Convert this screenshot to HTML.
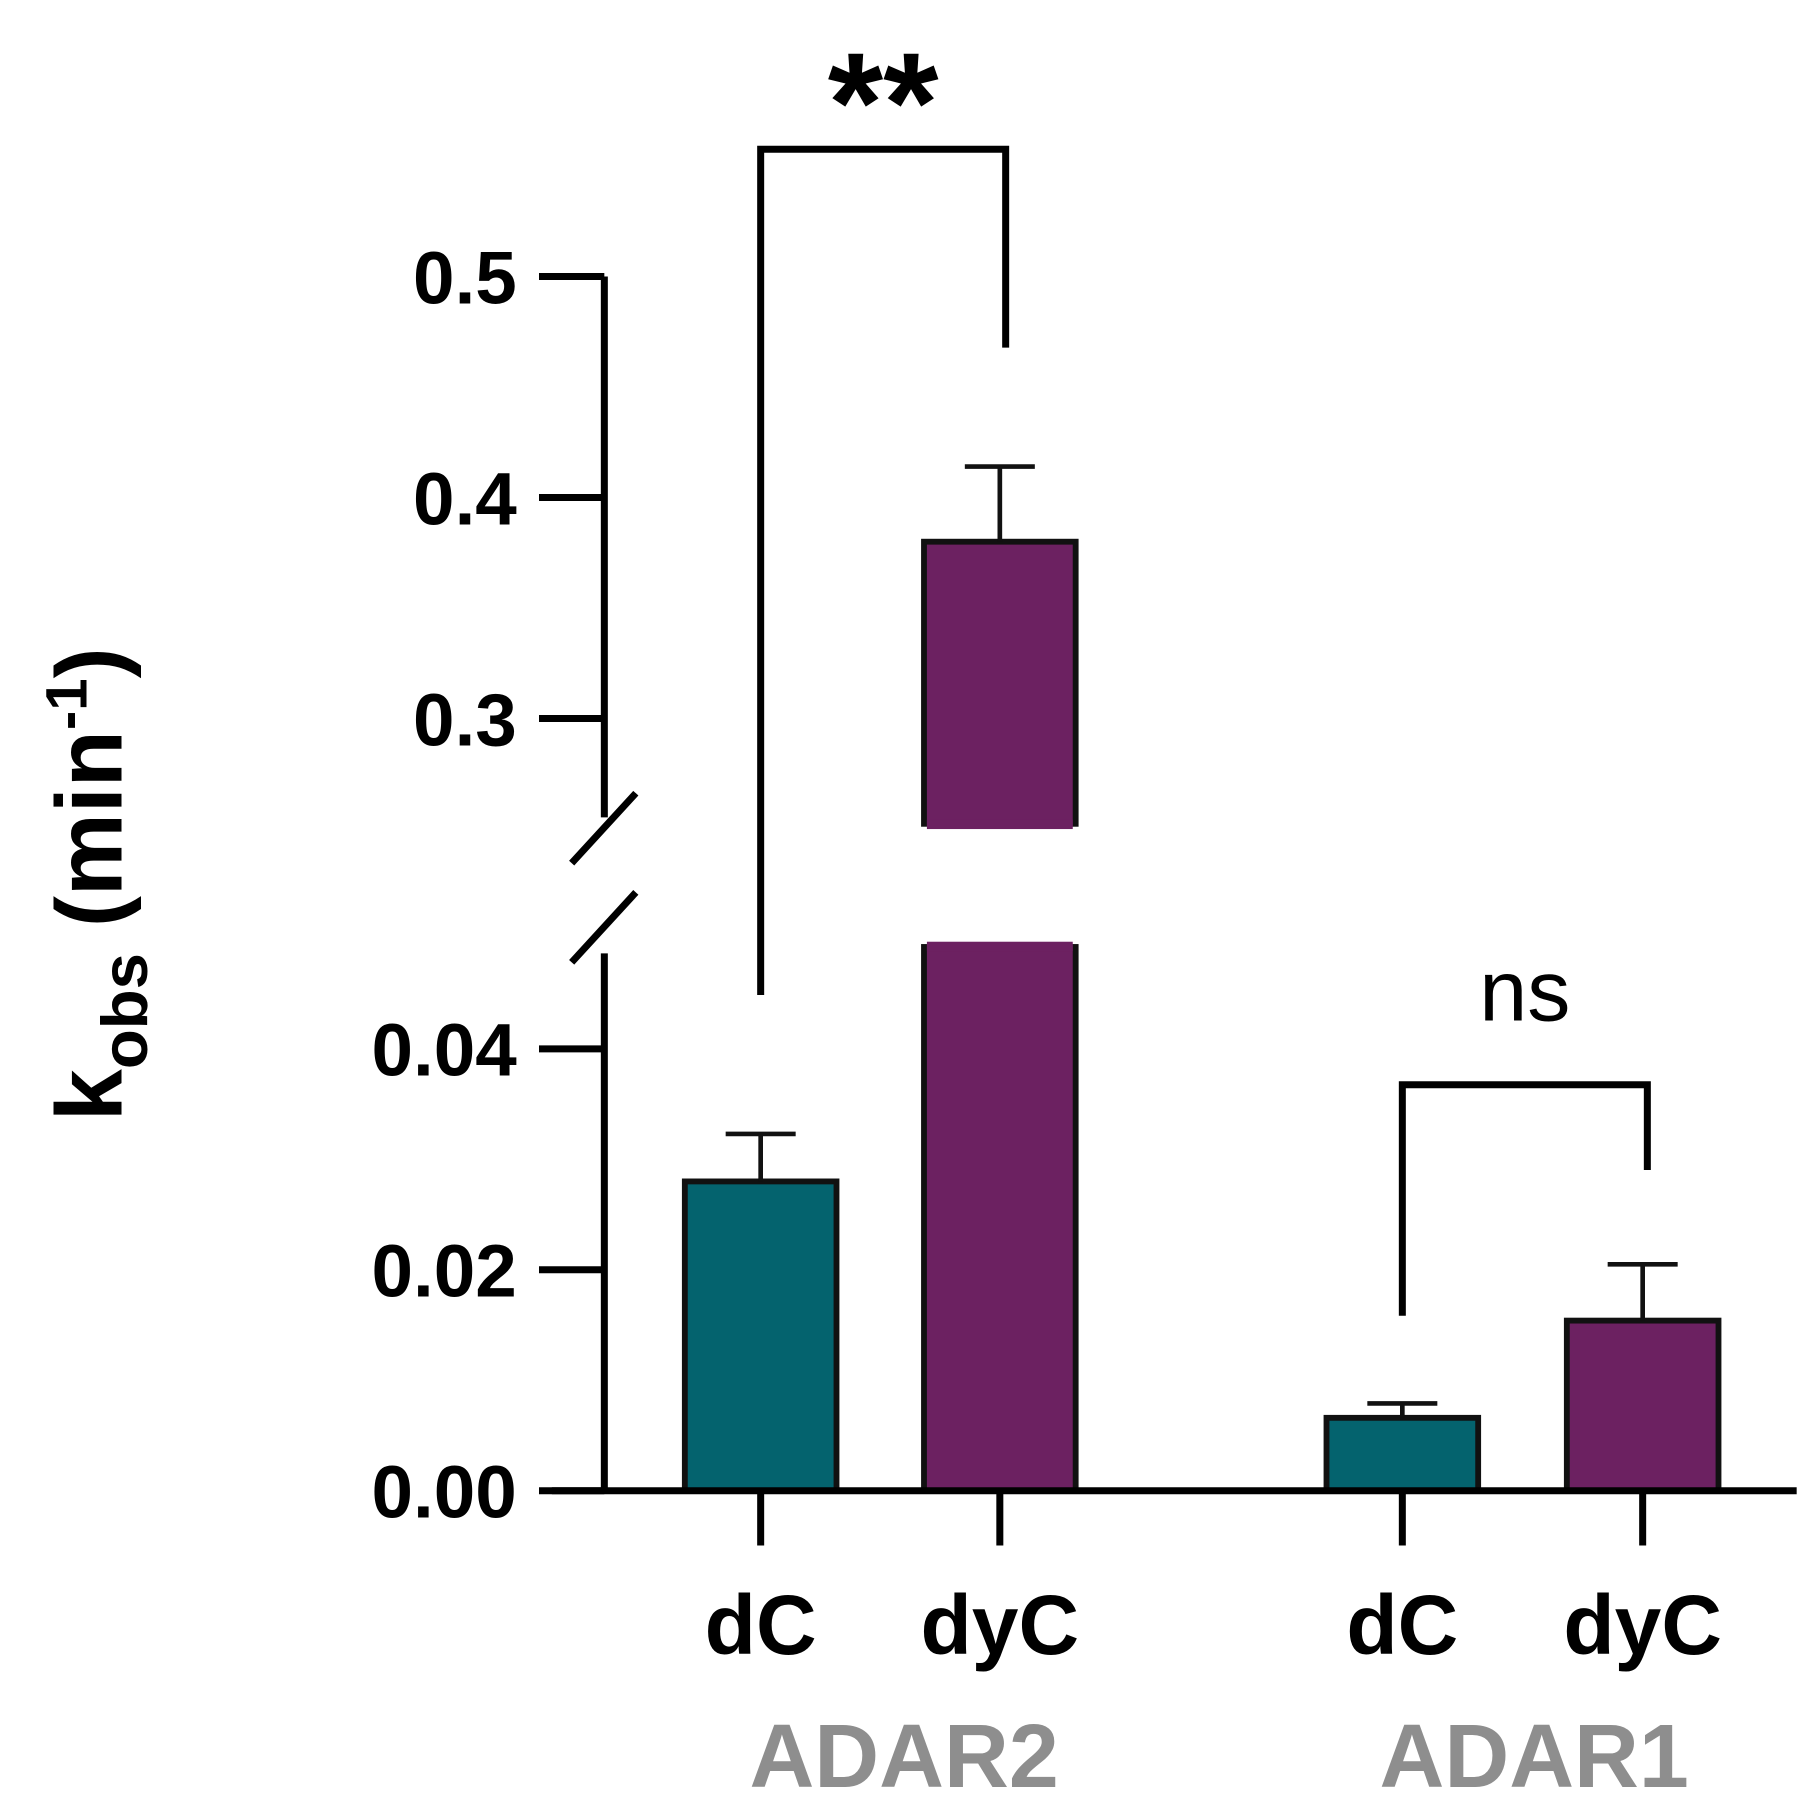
<!DOCTYPE html>
<html><head><meta charset="utf-8"><style>
html,body{margin:0;padding:0;background:#fff;}
svg{display:block;}
text{font-family:"Liberation Sans",Arial,sans-serif;font-weight:bold;}
</style></head><body>
<svg id="chart" width="1820" height="1794" viewBox="0 0 1560 1538" preserveAspectRatio="none" xmlns="http://www.w3.org/2000/svg">
<g id="g"></g>
</svg>
<script>
const categories = ["dC","dyC","dC","dyC"];
const groups = ["ADAR2","ADAR1"];
const values = [0.028, 0.38, 0.0066, 0.0154];
const errors = [0.0043, 0.034, 0.0013, 0.0051];
const lowTicks = [0, 0.02, 0.04];
const lowTickLabels = ["0.00","0.02","0.04"];
const highTicks = [0.3, 0.4, 0.5];
const highTickLabels = ["0.3","0.4","0.5"];
const sigLabels = ["**","ns"];

const NS="http://www.w3.org/2000/svg";
const g=document.getElementById('g');
function el(tag,attrs,parent){const e=document.createElementNS(NS,tag);for(const k in attrs)e.setAttribute(k,attrs[k]);(parent||g).appendChild(e);return e;}

const axisX=518, baseY=1278;
const lowMax=0.0497, highMin=0.25;
function yLow(v){return baseY - v*9470;}
function yHigh(v){return 616 - (v-0.3)*1895;}
const lowTop=yLow(lowMax), highBottom=yHigh(highMin);
function yMap(v){return v<=lowMax? yLow(v) : yHigh(v);}
const xCenters=[652,857,1202,1408];
const barW=130;
const colors=["#04636e","#6c2161","#04636e","#6c2161"];
const LW=6;

values.forEach((v,i)=>{
  const x=xCenters[i]-barW/2;
  if(v<=lowMax){
    const r=el('rect',{x:x,y:yLow(v),width:barW,height:baseY-yLow(v),fill:colors[i],stroke:'#111','stroke-width':5});
    
    
  } else {
    const r1=el('rect',{x:x,y:lowTop,width:barW,height:baseY-lowTop,fill:colors[i],stroke:'#111','stroke-width':5});
    
    
    const r2=el('rect',{x:x,y:yHigh(v),width:barW,height:highBottom-yHigh(v),fill:colors[i],stroke:'#111','stroke-width':5});
    
    
    el('rect',{x:x-3,y:highBottom-2,width:barW+6,height:6,fill:'#fff'});
    el('rect',{x:x+2.5,y:highBottom-8,width:barW-5,height:8,fill:colors[i]});
    el('rect',{x:x-3,y:lowTop-4,width:barW+6,height:6,fill:'#fff'});
    el('rect',{x:x+2.5,y:lowTop,width:barW-5,height:8,fill:colors[i]});
  }
  const top=yMap(v), et=yMap(v+errors[i]);
  const eb=el('path',{d:`M${xCenters[i]},${top} V${et} M${xCenters[i]-30},${et} H${xCenters[i]+30}`,stroke:'#111','stroke-width':4,fill:'none'});
  
  
});

const ax=el('path',{d:`M${axisX},${yHigh(0.5)} V${highBottom-10} M${axisX},${lowTop+10} V${baseY} M473,${baseY} H1540`,stroke:'#000','stroke-width':LW,fill:'none'});


const br=el('path',{d:`M490,740 L545,680 M490,825 L545,765`,stroke:'#000','stroke-width':LW,fill:'none'});



function tick(y,lab){
  el('path',{d:`M462,${y} H${axisX}`,stroke:'#000','stroke-width':LW});
  const t=el('text',{x:443,y:y+23,'text-anchor':'end','font-size':64});
  t.textContent=lab;
  
  
}
lowTicks.forEach((v,i)=>tick(yLow(v),lowTickLabels[i]));
highTicks.forEach((v,i)=>tick(yHigh(v),highTickLabels[i]));

xCenters.forEach((x,i)=>{
  el('path',{d:`M${x},${baseY} V1325`,stroke:'#000','stroke-width':LW});
  const t=el('text',{x:x,y:1418,'text-anchor':'middle','font-size':72});
  t.textContent=categories[i];
  
  
});
[[775,groups[0]],[1315,groups[1]]].forEach(([x,l])=>{
  const t=el('text',{x:x,y:1532,'text-anchor':'middle','font-size':77,fill:'#8e8e8e'});
  t.textContent=l;
  
  
});

const b1=el('path',{d:`M652,853 V128 H862 V298`,stroke:'#000','stroke-width':LW,fill:'none'});


const s1=el('text',{x:757,y:130,'text-anchor':'middle','font-size':122});
s1.textContent=sigLabels[0];


const b2=el('path',{d:`M1202,1128 V930 H1412 V1003`,stroke:'#000','stroke-width':LW,fill:'none'});


const s2=el('text',{x:1307,y:875,'text-anchor':'middle','font-size':74});
s2.setAttribute('style','font-weight:normal');
s2.textContent=sigLabels[1];



const yt=el('text',{transform:'translate(104,758) rotate(-90)','text-anchor':'middle','font-size':80});
yt.innerHTML='k<tspan font-size="56" dy="22">obs</tspan><tspan dy="-22"> (min</tspan><tspan font-size="50" dy="-30">-1</tspan><tspan dy="30">)</tspan>';


</script>
</body></html>
